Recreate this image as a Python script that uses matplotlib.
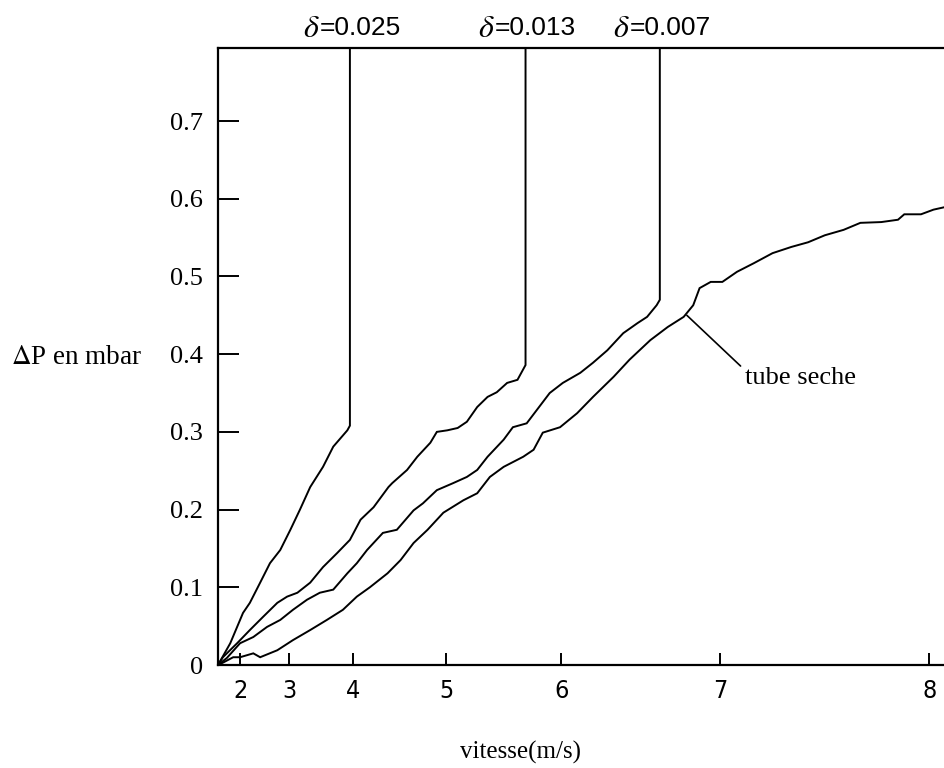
import numpy as np
import matplotlib
matplotlib.use("Agg")
import matplotlib.pyplot as plt
import matplotlib.transforms as mtransforms

# data (vitesse in m/s, delta P in mbar)
v_025 = [1.55, 1.80, 1.94, 2.06, 2.20, 2.41, 2.61, 2.82, 3.02, 3.17, 3.33, 3.53, 3.69, 3.91, 3.95, 3.95]
dp_025 = [0.0, 0.028, 0.049, 0.067, 0.080, 0.106, 0.131, 0.148, 0.174, 0.200, 0.229, 0.255, 0.281, 0.302, 0.308, 1.0]

v_013 = [1.55, 1.65, 1.94, 2.20, 2.47, 2.76, 2.96, 3.13, 3.33, 3.53, 3.75, 3.95, 4.08, 4.22, 4.38, 4.42,
         4.58, 4.69, 4.83, 4.90, 5.01, 5.10, 5.18, 5.27, 5.36, 5.44, 5.53, 5.62, 5.69, 5.69]
dp_013 = [0.0, 0.010, 0.028, 0.045, 0.062, 0.080, 0.088, 0.093, 0.106, 0.126, 0.144, 0.161, 0.187, 0.203, 0.229, 0.234,
          0.251, 0.268, 0.286, 0.300, 0.302, 0.305, 0.313, 0.332, 0.345, 0.351, 0.363, 0.367, 0.386, 1.0]

v_007 = [1.55, 1.73, 2.00, 2.27, 2.55, 2.82, 3.06, 3.28, 3.48, 3.69, 3.91, 4.04, 4.15, 4.32, 4.47, 4.65, 4.75,
         4.90, 5.06, 5.18, 5.27, 5.36, 5.50, 5.58, 5.70, 5.90, 6.01, 6.12, 6.20, 6.29, 6.39, 6.48, 6.54, 6.60,
         6.62, 6.62]
dp_007 = [0.0, 0.009, 0.028, 0.036, 0.049, 0.058, 0.071, 0.084, 0.093, 0.097, 0.118, 0.131, 0.148, 0.170, 0.174,
          0.199, 0.208, 0.225, 0.234, 0.242, 0.251, 0.268, 0.290, 0.306, 0.311, 0.350, 0.363, 0.376, 0.389, 0.405,
          0.427, 0.440, 0.448, 0.463, 0.470, 1.0]

v_sec = [1.55, 1.65, 1.86, 2.00, 2.27, 2.41, 2.76, 3.06, 3.33, 3.59, 3.84, 4.04, 4.18, 4.37, 4.51, 4.65, 4.80,
         4.97, 5.15, 5.27, 5.38, 5.50, 5.67, 5.76, 5.84, 5.99, 6.10, 6.20, 6.33, 6.43, 6.56, 6.67, 6.77, 6.83,
         6.87, 6.94, 7.01, 7.08, 7.16, 7.25, 7.34, 7.42, 7.50, 7.59, 7.67, 7.77, 7.85, 7.88, 7.96, 8.02, 8.07]
dp_sec = [0.0, 0.003, 0.010, 0.010, 0.015, 0.010, 0.019, 0.032, 0.045, 0.058, 0.071, 0.088, 0.100, 0.118, 0.135,
          0.157, 0.174, 0.196, 0.212, 0.221, 0.242, 0.255, 0.268, 0.277, 0.299, 0.306, 0.324, 0.345, 0.371, 0.393,
          0.418, 0.435, 0.448, 0.463, 0.485, 0.493, 0.493, 0.506, 0.517, 0.530, 0.538, 0.544, 0.553, 0.560, 0.569,
          0.570, 0.573, 0.580, 0.580, 0.586, 0.589]

deltas = ["0.025", "0.013", "0.007"]
x_ticks = [2, 3, 4, 5, 6, 7, 8]
y_ticks = [0, 0.1, 0.2, 0.3, 0.4, 0.5, 0.6, 0.7]
y_tick_labels = ["0", "0.1", "0.2", "0.3", "0.4", "0.5", "0.6", "0.7"]

# the velocity axis of the original is not linear: piecewise mapping of tick positions
V_KNOTS = np.array([1.0, 2, 3, 4, 5, 6, 7, 8, 9])
U_KNOTS = np.array([191.0, 240, 289, 353, 446, 561, 720, 929, 1138])


def fwd(v):
    return np.interp(v, V_KNOTS, U_KNOTS)


def inv(u):
    return np.interp(u, U_KNOTS, V_KNOTS)


plt.rcParams["mathtext.fontset"] = "stix"

fig = plt.figure(figsize=(9.44, 7.68), dpi=100)
ax = fig.add_axes([218 / 944, 1 - 665 / 768, 1 - 218 / 944, (665 - 48) / 768])
ax.set_xscale("function", functions=(fwd, inv))

lw = 1.4
for vv, dd in [(v_025, dp_025), (v_013, dp_013), (v_007, dp_007), (v_sec, dp_sec)]:
    ax.plot(vv, dd, color="black", lw=lw, solid_joinstyle="miter")

ax.set_xlim(1.55, 8.07)
ax.set_ylim(0, 0.794)

ax.spines["right"].set_visible(False)
for s in ["left", "bottom", "top"]:
    ax.spines[s].set_linewidth(1.6)

ax.set_xticks(x_ticks)
ax.set_xticklabels([str(t) for t in x_ticks], fontfamily="DejaVu Sans", fontstretch="condensed", fontsize=18)
ax.set_yticks(y_ticks)
ax.set_yticklabels(y_tick_labels, fontfamily="Liberation Serif", fontsize=19)
ax.tick_params(axis="x", direction="in", length=9, width=1.4, pad=10)
ax.tick_params(axis="y", direction="in", length=15, width=1.4, pad=11)
ax.minorticks_off()

# delta labels above the vertical jumps (delta glyph drawn larger, as in the scan)
trans = mtransforms.blended_transform_factory(ax.transData, ax.transAxes)
for d, vv in zip(deltas, [v_025, v_013, v_007]):
    ax.annotate(r"$\delta$", xy=(vv[-1], 1.032), xycoords=trans, xytext=(-22, 0),
                textcoords="offset points", ha="right", va="center", fontsize=23)
    ax.annotate("=" + d, xy=(vv[-1], 1.032), xycoords=trans, xytext=(-22, 0),
                textcoords="offset points", ha="left", va="center", fontsize=19,
                fontfamily="Liberation Sans")

ax.annotate("tube seche", xy=(6.79, 0.450), xytext=(7.12, 0.369),
            ha="left", va="center", fontsize=19, fontfamily="Liberation Serif",
            arrowprops=dict(arrowstyle="-", color="black", lw=1.2, shrinkA=2, shrinkB=0,
                            relpos=(0, 0.85)))

fig.text(11 / 944, 1 - 358 / 768, r"$\Delta$P en mbar", fontsize=19.5, fontfamily="Liberation Serif",
         va="center", ha="left")
fig.text(520 / 944, 1 - 752 / 768, "vitesse(m/s)", fontsize=18, fontfamily="Liberation Serif",
         va="center", ha="center")

fig.savefig("out.png", dpi=100)
